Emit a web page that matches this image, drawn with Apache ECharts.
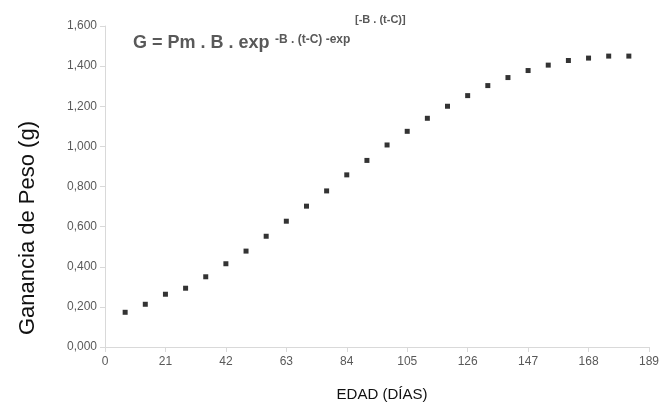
<!DOCTYPE html>
<html><head><meta charset="utf-8">
<script src="https://cdn.jsdelivr.net/npm/echarts@6/dist/echarts.min.js"></script>
<style>html,body{margin:0;padding:0;background:#fff}#c{width:662px;height:403px}</style>
</head><body><div id="c"></div>
<script>
var edadDias = [7,14,21,28,35,42,49,56,63,70,77,84,91,98,105,112,119,126,133,140,147,154,161,168,175,182];
var gananciaPeso = [0.173,0.213,0.263,0.293,0.350,0.415,0.478,0.552,0.627,0.702,0.778,0.858,0.930,1.007,1.075,1.140,1.200,1.253,1.303,1.343,1.378,1.405,1.428,1.440,1.450,1.450];
var xTitle = 'EDAD (DÍAS)';
var yTitle = 'Ganancia de Peso (g)';

var chart = echarts.init(document.getElementById('c'));
var pts = edadDias.map(function(d,i){return [d, gananciaPeso[i]];});
chart.setOption({
  animation:false,
  grid:{left:105,right:12,top:26,bottom:56},
  xAxis:{type:'value',min:0,max:189,interval:21,
    axisLine:{show:true,lineStyle:{color:'#d9d9d9'}},
    axisTick:{show:true,length:5,lineStyle:{color:'#d9d9d9'}},
    axisLabel:{color:'#595959',fontSize:12,fontFamily:'Liberation Sans',margin:9},
    splitLine:{show:false}},
  yAxis:{type:'value',min:0,max:1.6,interval:0.2,
    axisLine:{show:true,lineStyle:{color:'#d9d9d9'}},
    axisTick:{show:true,length:5,lineStyle:{color:'#d9d9d9'}},
    axisLabel:{color:'#595959',fontSize:12,fontFamily:'Liberation Sans',margin:8,
      formatter:function(v){return v.toFixed(3).replace('.',',');}},
    splitLine:{show:false}},
  series:[{type:'scatter',data:pts,symbol:'rect',symbolSize:5,itemStyle:{color:'#000'}}],
  graphic:[
    {type:'text',x:382,y:395,style:{text:xTitle,fill:'#111',font:'15px "Liberation Sans"',align:'center',verticalAlign:'middle'}},
    {type:'text',x:28,y:228,rotation:Math.PI/2,style:{text:yTitle,fill:'#111',font:'22px "Liberation Sans"',align:'center',verticalAlign:'middle'}},
    {type:'text',x:133,y:43,style:{text:'G = Pm . B . exp',fill:'#595959',font:'bold 18px "Liberation Sans"',verticalAlign:'middle'}},
    {type:'text',x:275,y:40,style:{text:'-B . (t-C) -exp',fill:'#595959',font:'bold 12px "Liberation Sans"',verticalAlign:'middle'}},
    {type:'text',x:355,y:20,style:{text:'[-B . (t-C)]',fill:'#595959',font:'bold 11px "Liberation Sans"',verticalAlign:'middle'}}
  ]
});
</script></body></html>
